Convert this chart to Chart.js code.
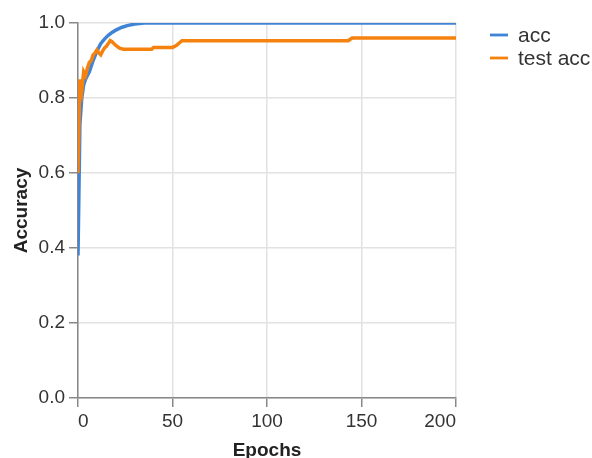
<!DOCTYPE html>
<html>
<head>
<meta charset="utf-8">
<script src="https://cdn.jsdelivr.net/npm/chart.js@4.4.1/dist/chart.umd.min.js"></script>
<style>
  html, body { margin: 0; padding: 0; background: #fff; overflow: hidden; }
  #accChart { display: block; }
</style>
</head>
<body>
<canvas id="accChart" width="592" height="458"></canvas>
<script>
const seriesNames = ['acc', 'test acc'];
const seriesColors = ['#3f84d6', '#f5820f'];

// training accuracy
const accEpochs = [0, 1, 2, 3, 4, 5, 6, 7, 8, 10, 12, 14, 16, 18, 20, 23, 26, 30, 35, 40, 200];
const accValues = [0.38, 0.73, 0.8, 0.835, 0.85, 0.86, 0.87, 0.885, 0.9, 0.925, 0.945, 0.957, 0.967, 0.975, 0.981, 0.988, 0.993, 0.997, 1.0, 1.0, 1.0];

// test accuracy
const testEpochs = [0, 1, 2, 3, 4, 5, 6, 7, 8, 9, 10, 11, 12, 13, 14, 15, 16, 17, 18, 19, 20, 22, 24, 30, 39, 40, 50, 52, 55, 100, 143, 145, 200];
const testValues = [0.6, 0.85, 0.82, 0.87, 0.86, 0.88, 0.895, 0.9, 0.915, 0.92, 0.928, 0.92, 0.915, 0.925, 0.933, 0.938, 0.945, 0.953, 0.95, 0.945, 0.94, 0.933, 0.93, 0.93, 0.93, 0.935, 0.935, 0.94, 0.953, 0.953, 0.953, 0.96, 0.96];

const xTicks = [0, 50, 100, 150, 200];
const yTicks = [0, 0.2, 0.4, 0.6, 0.8, 1.0];

const FONT = '"Liberation Sans", Arial, sans-serif';

function toPoints(xs, ys) {
    return xs.map((x, i) => ({ x: x, y: ys[i] }));
}

// simple legend on the right, like the original
const sideLegend = {
    id: 'sideLegend',
    afterDraw(chart) {
        const ctx = chart.ctx;
        ctx.save();
        ctx.font = '21px ' + FONT;
        ctx.textBaseline = 'middle';
        ctx.textAlign = 'left';
        chart.data.datasets.forEach((ds, i) => {
            const y = 35 + i * 23;
            ctx.strokeStyle = ds.borderColor;
            ctx.lineWidth = 2.8;
            ctx.beginPath();
            ctx.moveTo(490, y);
            ctx.lineTo(508, y);
            ctx.stroke();
            ctx.fillStyle = '#333';
            ctx.fillText(ds.label, 518, y + 1);
        });
        ctx.restore();
    }
};

const ctx = document.getElementById('accChart').getContext('2d');
const myChart = new Chart(ctx, {
    type: 'line',
    data: {
        datasets: [{
            label: seriesNames[0],
            data: toPoints(accEpochs, accValues),
            borderColor: seriesColors[0],
            borderWidth: 3.5,
            pointRadius: 0,
            tension: 0,
            order: 1
        }, {
            label: seriesNames[1],
            data: toPoints(testEpochs, testValues),
            borderColor: seriesColors[1],
            borderWidth: 3.5,
            pointRadius: 0,
            tension: 0,
            order: 0
        }]
    },
    options: {
        responsive: false,
        animation: false,
        devicePixelRatio: 1,
        layout: { padding: { top: 23, right: 136, bottom: 0, left: 0 } },
        plugins: {
            legend: { display: false },
            tooltip: { enabled: false }
        },
        scales: {
            x: {
                type: 'linear',
                min: 0,
                max: 200,
                afterBuildTicks: (s) => { s.ticks = xTicks.map(v => ({ value: v })); },
                afterFit: (s) => { s.height = 60; },
                grid: { color: '#e2e2e2', lineWidth: 1.5, tickColor: '#888', tickWidth: 1.5, tickLength: 9 },
                border: { color: '#888', width: 1.5 },
                ticks: {
                    align: 'inner',
                    padding: 3,
                    color: '#333',
                    font: { family: FONT, size: 19 }
                },
                title: {
                    display: true,
                    text: 'Epochs',
                    color: '#222',
                    padding: { top: 0, bottom: 0 },
                    font: { family: FONT, size: 19, weight: 'bold', lineHeight: 0.8 }
                }
            },
            y: {
                min: 0,
                max: 1,
                afterBuildTicks: (s) => { s.ticks = yTicks.map(v => ({ value: v })); },
                afterFit: (s) => { s.width = 78; },
                grid: { color: '#e2e2e2', lineWidth: 1.5, tickColor: '#888', tickWidth: 1.5, tickLength: 9 },
                border: { color: '#888', width: 1.5 },
                ticks: {
                    padding: 4,
                    color: '#333',
                    font: { family: FONT, size: 19 },
                    callback: (v) => Number(v).toFixed(1)
                },
                title: {
                    display: true,
                    text: 'Accuracy',
                    color: '#222',
                    padding: { top: 11, bottom: 0 },
                    font: { family: FONT, size: 19, weight: 'bold', lineHeight: 1.1 }
                }
            }
        }
    },
    plugins: [sideLegend]
});
</script>
</body>
</html>
